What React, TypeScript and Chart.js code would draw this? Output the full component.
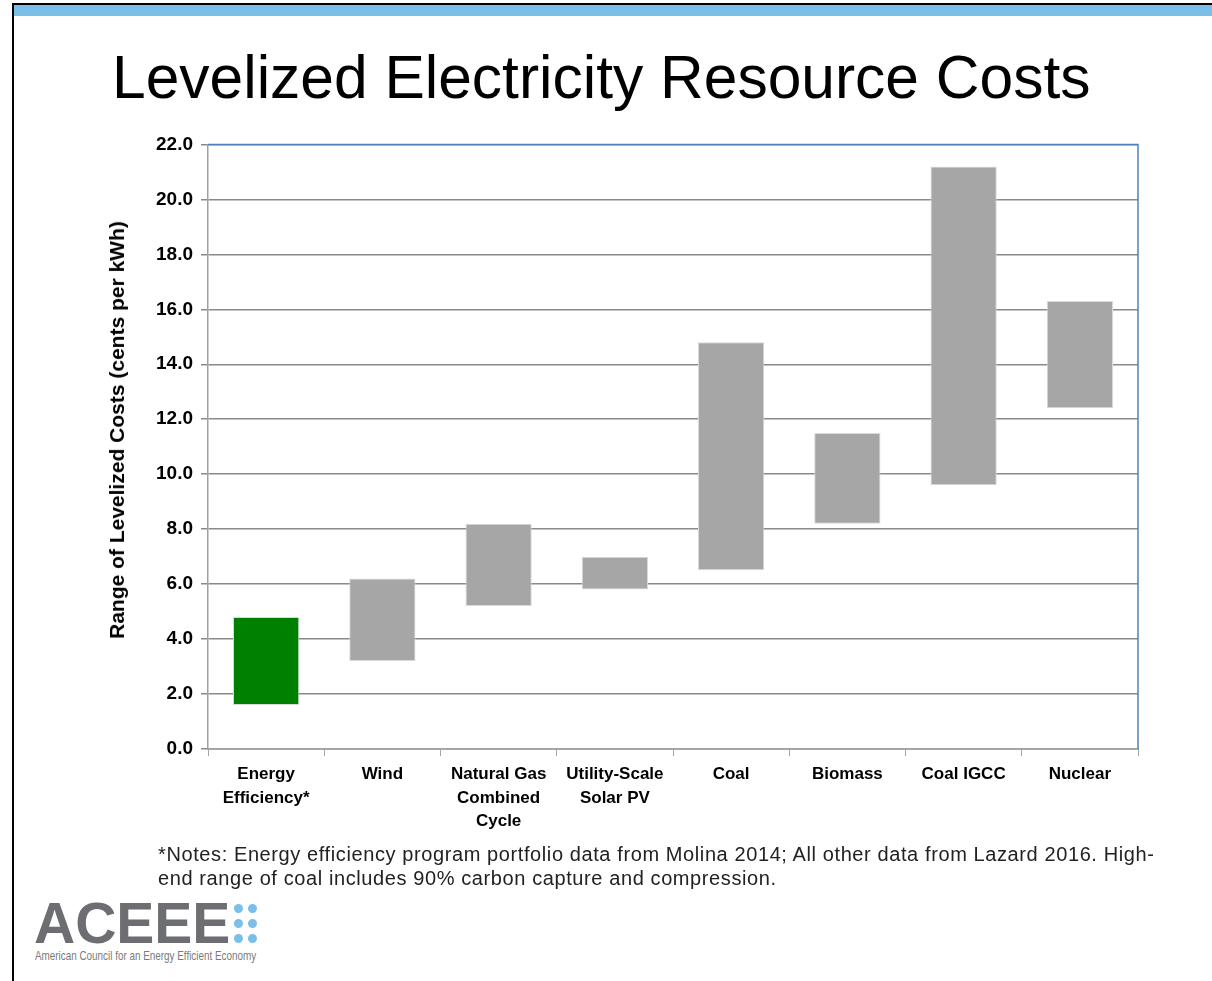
import React, { useEffect, useRef } from "react";
import { Chart, registerables } from "chart.js";

Chart.register(...registerables);

const categories: (string | string[])[] = [
  ["Energy", "Efficiency*"],
  "Wind",
  ["Natural Gas", "Combined", "Cycle"],
  ["Utility-Scale", "Solar PV"],
  "Coal",
  "Biomass",
  "Coal IGCC",
  "Nuclear",
];
const lowValues = [1.6, 3.2, 5.2, 5.8, 6.5, 8.2, 9.6, 12.4];
const highValues = [4.8, 6.2, 8.2, 7.0, 14.8, 11.5, 21.2, 16.3];
const barColors = ["#008000", "#a6a6a6", "#a6a6a6", "#a6a6a6", "#a6a6a6", "#a6a6a6", "#a6a6a6", "#a6a6a6"];
const yMin = 0;
const yMax = 22;
const yStep = 2;
const yTitle = "Range of Levelized Costs (cents per kWh)";
const chartTitle = "Levelized Electricity Resource Costs";
const noteLines = [
  "*Notes: Energy efficiency program portfolio data from Molina 2014; All other data from Lazard 2016. High-",
  "end range of coal includes 90% carbon capture and compression.",
];

const CANVAS_LEFT = 90;
const CANVAS_TOP = 125;
const CANVAS_W = 1070;
const CANVAS_H = 725;

const plotBorder = {
  id: "plotBorder",
  afterDraw(chart: any) {
    const { ctx, chartArea } = chart;
    ctx.save();
    ctx.strokeStyle = "#4f81bd";
    ctx.lineWidth = 1.5;
    ctx.beginPath();
    ctx.moveTo(chartArea.left, chartArea.top);
    ctx.lineTo(chartArea.right, chartArea.top);
    ctx.lineTo(chartArea.right, chartArea.bottom);
    ctx.stroke();
    ctx.restore();
  },
};

export default function App() {
  const ref = useRef<HTMLCanvasElement | null>(null);

  useEffect(() => {
    if (!ref.current) return;
    const data = lowValues.map((lo, i) => [lo, highValues[i]]);
    const chart = new Chart(ref.current, {
      type: "bar",
      data: {
        labels: categories as any,
        datasets: [
          {
            data: data as any,
            backgroundColor: barColors,
            borderColor: "#d9d9d9",
            borderWidth: 1,
            borderSkipped: false,
            barPercentage: 0.57,
            categoryPercentage: 1,
          },
        ],
      },
      options: {
        animation: false,
        responsive: false,
        maintainAspectRatio: false,
        devicePixelRatio: 1,
        layout: { padding: { top: 3, right: 22, left: 0, bottom: 0 } },
        plugins: {
          legend: { display: false },
          tooltip: { enabled: false },
        },
        scales: {
          x: {
            offset: true,
            afterFit(scale: any) {
              scale.height = 101;
            },
            grid: {
              offset: true,
              drawOnChartArea: false,
              drawTicks: true,
              tickLength: 7,
              color: "#a6a6a6",
              lineWidth: 1,
            },
            border: { color: "#a6a6a6", width: 2 },
            ticks: {
              color: "#000000",
              maxRotation: 0,
              autoSkip: false,
              padding: 7,
              font: { family: "'Liberation Sans', Arial, sans-serif", size: 17, weight: "bold", lineHeight: 1.38 },
            },
          },
          y: {
            min: yMin,
            max: yMax,
            afterFit(scale: any) {
              scale.width = 118;
            },
            grid: {
              color: "#8a8a8a",
              lineWidth: 1.5,
              tickLength: 7,
            },
            border: { color: "#a0a0a0", width: 1.5 },
            ticks: {
              stepSize: yStep,
              padding: 8,
              color: "#000000",
              callback: (v: any) => Number(v).toFixed(1),
              font: { family: "'Liberation Sans', Arial, sans-serif", size: 19, weight: "bold" },
            },
            title: { display: false },
          },
        },
      },
      plugins: [plotBorder],
    });
    return () => chart.destroy();
  }, []);

  return (
    <div
      style={{
        position: "absolute",
        left: 0,
        top: 0,
        width: 1212,
        height: 981,
        overflow: "hidden",
        background: "#ffffff",
        fontFamily: "'Liberation Sans', Arial, sans-serif",
      }}
    >
      <div style={{ position: "absolute", left: 12, top: 3, right: 0, height: 2, background: "#000" }} />
      <div style={{ position: "absolute", left: 14, top: 5, right: 0, height: 11, background: "#7bbee9" }} />
      <div style={{ position: "absolute", left: 12, top: 3, width: 2, bottom: 0, background: "#000" }} />

      <div
        style={{
          position: "absolute",
          left: 112,
          top: 47,
          fontSize: 60.5,
          lineHeight: "61px",
          whiteSpace: "nowrap",
          color: "#000",
        }}
      >
        {chartTitle}
      </div>

      <canvas
        ref={ref}
        width={CANVAS_W}
        height={CANVAS_H}
        style={{ position: "absolute", left: CANVAS_LEFT, top: CANVAS_TOP, width: CANVAS_W, height: CANVAS_H }}
      />

      <div
        style={{
          position: "absolute",
          left: 117,
          top: 430,
          width: 0,
          height: 0,
        }}
      >
        <div
          style={{
            position: "absolute",
            left: 0,
            top: 0,
            transform: "translate(-50%, -50%) rotate(-90deg)",
            fontSize: 21,
            lineHeight: "24px",
            fontWeight: "bold",
            whiteSpace: "nowrap",
            color: "#000",
          }}
        >
          {yTitle}
        </div>
      </div>

      <div
        style={{
          position: "absolute",
          left: 158,
          top: 842,
          fontSize: 20,
          lineHeight: "24px",
          letterSpacing: 0.6,
          color: "#222222",
          whiteSpace: "nowrap",
        }}
      >
        {noteLines.map((l, i) => (
          <div key={i}>{l}</div>
        ))}
      </div>

      <div
        style={{
          position: "absolute",
          left: 34,
          top: 895,
          fontSize: 57,
          lineHeight: "57px",
          fontWeight: "bold",
          color: "#6d6e71",
          letterSpacing: 0,
          whiteSpace: "nowrap",
        }}
      >
        ACEEE
      </div>
      {[0, 1, 2].map((r) =>
        [0, 1].map((c) => (
          <div
            key={r + "-" + c}
            style={{
              position: "absolute",
              left: 234 + c * 14,
              top: 904 + r * 15,
              width: 9,
              height: 9,
              borderRadius: "50%",
              background: "#7bbee9",
            }}
          />
        ))
      )}
      <div
        style={{
          position: "absolute",
          left: 35,
          top: 949,
          fontSize: 13,
          lineHeight: "14px",
          color: "#7a7a7a",
          whiteSpace: "nowrap",
          transform: "scaleX(0.76)",
          transformOrigin: "left top",
        }}
      >
        American Council for an Energy Efficient Economy
      </div>
    </div>
  );
}
